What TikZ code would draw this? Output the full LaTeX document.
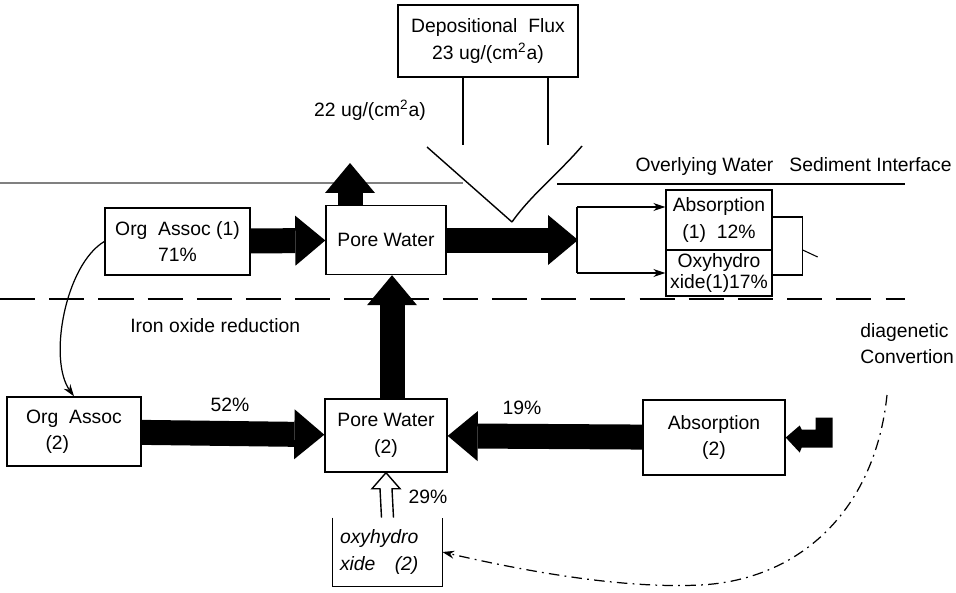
\documentclass[tikz,border=0pt]{standalone}
\usepackage{fontspec}
\setmainfont{Liberation Sans}
\usetikzlibrary{arrows.meta, calc}

\tikzset{
  box/.style={draw, line width=0.8pt, align=center, inner sep=2pt},
  flow/.style={line width=0.5cm, -{Triangle[length=0.6cm, width=1cm, line width=0pt]}},
  thinarrow/.style={line width=0.7pt, -{Stealth[length=2.4mm, width=1.6mm]}},
  lbl/.style={inner sep=0pt}
}

\begin{document}
\begin{tikzpicture}[x=0.02cm, y=-0.02cm, font=\fontsize{11}{15}\selectfont]
\useasboundingbox (0,0) rectangle (956,592);

\node[box, minimum width=3.6cm, minimum height=1.44cm] (dep) at (488,41) {Depositional\ \ Flux\\23 ug/(cm\textsuperscript{2}a)};
\node[box, minimum width=2.9cm, minimum height=1.34cm] (oa1) at (177.5,241.5) {Org\ \ Assoc (1)\\71\%};
\node[box, minimum width=2.4cm, minimum height=1.38cm] (pw1) at (386,240) {Pore Water};
\node[box, minimum width=2.12cm, minimum height=1.2cm] (abs1) at (719,220) {Absorption\\(1)\ \ 12\%};
\node[box, minimum width=2.12cm, minimum height=0.92cm, font=\fontsize{11}{11.5}\selectfont] (oxy1) at (719,273) {Oxyhydro\\xide(1)17\%};
\node[box, minimum width=2.68cm, minimum height=1.38cm, align=left] (oa2) at (74,431.5) {Org\ \ Assoc\\\hspace*{1em}(2)};
\node[box, minimum width=2.44cm, minimum height=1.46cm] (pw2) at (386,435.5) {Pore Water\\(2)};
\node[box, minimum width=2.84cm, minimum height=1.5cm] (abs2) at (714,437.5) {Absorption\\(2)};
\node[inner sep=2pt, text width=1.9cm, minimum width=2.18cm, minimum height=1.36cm, align=left, font=\fontsize{11}{15}\selectfont\itshape] (oxy2) at (387.5,552) {oxyhydro\\xide\hspace{1em}(2)};
\draw[line width=0.8pt] (oxy2.north west) -- (oxy2.south west) -- (oxy2.south east) -- (oxy2.north east);

\node[lbl] (rate) at (370,110) {22 ug/(cm\textsuperscript{2}a)};
\node[lbl, anchor=east] (iface) at (952,166) {Overlying Water\ \ \ Sediment Interface};
\node[lbl, anchor=west] (iron) at (130,326) {Iron oxide reduction};
\node[lbl, anchor=north west, align=left] (diag) at (860,323) {diagenetic\\Convertion};
\node[lbl] (p52) at (230,405) {52\%};
\node[lbl] (p19) at (522,408) {19\%};
\node[lbl] (p29) at (428,497) {29\%};

\draw[gray, line width=0.7pt] (0,183) -- (463,183);
\draw[line width=1pt] (557,184) -- (905,184);
\draw[line width=1.1pt, dash pattern=on 20pt off 8pt] (0,299) -- (905,299);

\coordinate (fl) at (463,145);
\coordinate (fr) at (548,145);
\coordinate (fa) at (512,222);
\draw[line width=0.8pt] (dep.south -| fl) -- (fl);
\draw[line width=0.8pt] (dep.south -| fr) -- (fr);
\draw[line width=0.8pt] (427,147) -- (fa);
\draw[line width=0.8pt] (582,146) .. controls (560,172) and (530,196) .. (fa);

\coordinate (escape) at (350,163);
\coordinate (split) at (578,240);
\draw[flow] (oa1) -- (pw1);
\draw[flow] (pw1.north -| escape) -- (escape);
\draw[flow] (pw1.east) -- (split);
\draw[flow] ([xshift=0.12cm]pw2.north) -- ([xshift=0.12cm]pw1.south);
\draw[flow] (oa2) -- (pw2);
\draw[flow] (abs2) -- (pw2);

\coordinate (brtop) at (577,207);
\coordinate (brbot) at (577,273);
\draw[line width=0.7pt] (brtop) -- (brbot);
\draw[thinarrow] (brtop) -- (abs1.west |- brtop);
\draw[thinarrow] (brbot) -- (oxy1.west);
\draw[line width=0.8pt] ($(abs1.east)+(0,-3)$) -- ++(30,0) -- ++(0,58) -- ($(oxy1.east)+(0,2)$);
\draw[line width=0.6pt] ($(abs1.east)+(30,30)$) -- ++(15,7);

\fill (abs2.east) -- ++(14,-12) -- ++(2,4) -- ++(14,0) -- ++(0,-12) -- ++(17,0) -- ++(0,30) -- ++(-17,0) -- ++(0,0) -- ++(-14,0) -- ++(-2,5) -- cycle;

\coordinate (hb) at ($(pw2.south)+(0,16)$);
\draw[line width=0.8pt] ($(oxy2.north)+(-6,0)$) -- ($(hb)+(-6,0)$) -- ($(hb)+(-14,0)$) -- (pw2.south) -- ($(hb)+(14,0)$) -- ($(hb)+(6,0)$) -- ($(oxy2.north)+(6,0)$);

\draw[thinarrow] (oa1.west) .. controls (65,265) and (48,360) .. (oa2.north);

\coordinate (conv) at (887,395);
\draw[thinarrow, dash pattern=on 6pt off 3pt on 1pt off 3pt] (conv) .. controls (875,510) and (800,580) .. (700,585) .. controls (620,589) and (520,570) .. (oxy2.east);
\end{tikzpicture}
\end{document}
